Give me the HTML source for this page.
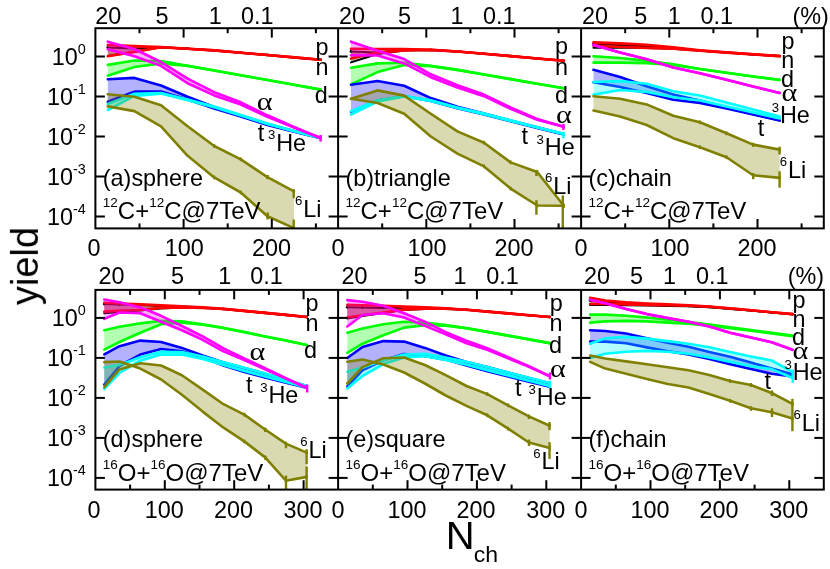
<!DOCTYPE html>
<html><head><meta charset="utf-8"><title>yield vs Nch</title>
<style>html,body{margin:0;padding:0;background:#fff}svg{display:block;will-change:transform}</style>
</head><body>
<svg width="830" height="569" viewBox="0 0 830 569" font-family="'Liberation Sans', sans-serif" fill="#000">
<rect width="830" height="569" fill="#fff"/>
<svg x="95.4" y="28.2" width="242.7" height="200.2" viewBox="95.4 28.2 242.7 200.2">
<polygon points="107.8,47.6 134.4,48.6 161.0,47.3 187.6,48.7 214.2,50.4 240.8,52.7 267.4,55.0 294.0,57.4 320.6,59.7 320.6,59.7 294.0,57.4 267.4,55.0 240.8,52.7 214.2,50.4 187.6,48.7 161.0,47.3 134.4,51.8 107.8,56.0" fill="#000000" fill-opacity="0.30" stroke="none"/>
<polyline points="107.8,47.6 134.4,48.6 161.0,47.3 187.6,48.7 214.2,50.4 240.8,52.7 267.4,55.0 294.0,57.4 320.6,59.7" fill="none" stroke="#000000" stroke-width="2.00" stroke-linejoin="round" stroke-linecap="round"/>
<polyline points="107.8,56.0 134.4,51.8 161.0,47.3 187.6,48.7 214.2,50.4 240.8,52.7 267.4,55.0 294.0,57.4 320.6,59.7" fill="none" stroke="#000000" stroke-width="2.00" stroke-linejoin="round" stroke-linecap="round"/>
<circle cx="107.8" cy="47.6" r="1.4" fill="#000"/>
<circle cx="134.4" cy="48.6" r="1.4" fill="#000"/>
<circle cx="161.0" cy="47.3" r="1.4" fill="#000"/>
<circle cx="187.6" cy="48.7" r="1.4" fill="#000"/>
<circle cx="214.2" cy="50.4" r="1.4" fill="#000"/>
<circle cx="240.8" cy="52.7" r="1.4" fill="#000"/>
<circle cx="267.4" cy="55.0" r="1.4" fill="#000"/>
<circle cx="294.0" cy="57.4" r="1.4" fill="#000"/>
<circle cx="320.6" cy="59.7" r="1.4" fill="#000"/>
<polygon points="107.8,45.1 134.4,46.1 161.0,47.1 187.6,48.7 214.2,50.4 240.8,52.7 267.4,55.0 294.0,57.4 320.6,59.7 320.6,59.7 294.0,57.4 267.4,55.0 240.8,52.7 214.2,50.4 187.6,48.7 161.0,47.3 134.4,51.9 107.8,56.2" fill="#ff0000" fill-opacity="0.30" stroke="none"/>
<polyline points="107.8,45.1 134.4,46.1 161.0,47.1 187.6,48.7 214.2,50.4 240.8,52.7 267.4,55.0 294.0,57.4 320.6,59.7" fill="none" stroke="#ff0000" stroke-width="2.60" stroke-linejoin="round" stroke-linecap="round"/>
<polyline points="107.8,56.2 134.4,51.9 161.0,47.3 187.6,48.7 214.2,50.4 240.8,52.7 267.4,55.0 294.0,57.4 320.6,59.7" fill="none" stroke="#ff0000" stroke-width="2.60" stroke-linejoin="round" stroke-linecap="round"/>
<polygon points="107.8,64.9 134.4,60.5 161.0,61.0 187.6,65.7 214.2,70.5 240.8,75.2 267.4,80.0 294.0,84.8 320.6,89.6 320.6,89.6 294.0,84.8 267.4,80.0 240.8,75.2 214.2,70.5 187.6,65.9 161.0,63.4 134.4,67.0 107.8,75.7" fill="#00ff00" fill-opacity="0.30" stroke="none"/>
<polyline points="107.8,64.9 134.4,60.5 161.0,61.0 187.6,65.7 214.2,70.5 240.8,75.2 267.4,80.0 294.0,84.8 320.6,89.6" fill="none" stroke="#00ff00" stroke-width="2.60" stroke-linejoin="round" stroke-linecap="round"/>
<polyline points="107.8,75.7 134.4,67.0 161.0,63.4 187.6,65.9 214.2,70.5 240.8,75.2 267.4,80.0 294.0,84.8 320.6,89.6" fill="none" stroke="#00ff00" stroke-width="2.60" stroke-linejoin="round" stroke-linecap="round"/>
<polygon points="107.8,79.3 134.4,77.9 161.0,85.5 187.6,96.7 214.2,107.0 240.8,115.5 267.4,124.0 294.0,131.0 320.6,138.0 320.6,138.2 294.0,131.7 267.4,124.9 240.8,116.6 214.2,108.4 187.6,99.4 161.0,91.6 134.4,91.6 107.8,101.7" fill="#0000ff" fill-opacity="0.30" stroke="none"/>
<polyline points="107.8,79.3 134.4,77.9 161.0,85.5 187.6,96.7 214.2,107.0 240.8,115.5 267.4,124.0 294.0,131.0 320.6,138.0" fill="none" stroke="#0000ff" stroke-width="2.60" stroke-linejoin="round" stroke-linecap="round"/>
<polyline points="107.8,101.7 134.4,91.6 161.0,91.6 187.6,99.4 214.2,108.4 240.8,116.6 267.4,124.9 294.0,131.7 320.6,138.2" fill="none" stroke="#0000ff" stroke-width="2.60" stroke-linejoin="round" stroke-linecap="round"/>
<polygon points="107.8,104.0 134.4,93.8 161.0,93.0 187.6,99.5 214.2,106.5 240.8,115.0 267.4,123.5 294.0,131.0 320.6,138.0 320.6,138.0 294.0,131.3 267.4,124.0 240.8,115.6 214.2,107.3 187.6,100.2 161.0,93.6 134.4,95.9 107.8,110.0" fill="#00ffff" fill-opacity="0.30" stroke="none"/>
<polyline points="107.8,104.0 134.4,93.8 161.0,93.0 187.6,99.5 214.2,106.5 240.8,115.0 267.4,123.5 294.0,131.0 320.6,138.0" fill="none" stroke="#00ffff" stroke-width="2.60" stroke-linejoin="round" stroke-linecap="round"/>
<polyline points="107.8,110.0 134.4,95.9 161.0,93.6 187.6,100.2 214.2,107.3 240.8,115.6 267.4,124.0 294.0,131.3 320.6,138.0" fill="none" stroke="#00ffff" stroke-width="2.60" stroke-linejoin="round" stroke-linecap="round"/>
<polygon points="107.8,41.7 134.4,49.0 161.0,62.0 187.6,78.7 214.2,92.2 240.8,102.3 267.4,115.3 294.0,127.0 320.6,138.0 320.6,138.0 294.0,127.6 267.4,116.7 240.8,104.5 214.2,95.4 187.6,83.2 161.0,65.9 134.4,56.2 107.8,49.3" fill="#ff00ff" fill-opacity="0.30" stroke="none"/>
<polyline points="107.8,41.7 134.4,49.0 161.0,62.0 187.6,78.7 214.2,92.2 240.8,102.3 267.4,115.3 294.0,127.0 320.6,138.0" fill="none" stroke="#ff00ff" stroke-width="2.60" stroke-linejoin="round" stroke-linecap="round"/>
<polyline points="107.8,49.3 134.4,56.2 161.0,65.9 187.6,83.2 214.2,95.4 240.8,104.5 267.4,116.7 294.0,127.6 320.6,138.0" fill="none" stroke="#ff00ff" stroke-width="2.60" stroke-linejoin="round" stroke-linecap="round"/>
<polygon points="107.8,94.2 134.4,96.7 161.0,105.2 187.6,126.3 214.2,146.0 240.8,159.3 267.4,177.1 294.0,191.4 294.0,228.1 267.4,216.3 240.8,192.5 214.2,177.4 187.6,155.8 161.0,126.3 134.4,111.1 107.8,106.4" fill="#808000" fill-opacity="0.30" stroke="none"/>
<polyline points="107.8,94.2 134.4,96.7 161.0,105.2 187.6,126.3 214.2,146.0 240.8,159.3 267.4,177.1 294.0,191.4" fill="none" stroke="#808000" stroke-width="2.60" stroke-linejoin="round" stroke-linecap="round"/>
<polyline points="107.8,106.4 134.4,111.1 161.0,126.3 187.6,155.8 214.2,177.4 240.8,192.5 267.4,216.3 294.0,228.1" fill="none" stroke="#808000" stroke-width="2.60" stroke-linejoin="round" stroke-linecap="round"/>
<line x1="214.2" y1="144.1" x2="214.2" y2="147.9" stroke="#808000" stroke-width="2"/>
<line x1="240.8" y1="157.4" x2="240.8" y2="161.2" stroke="#808000" stroke-width="2"/>
<line x1="267.4" y1="175.2" x2="267.4" y2="179.0" stroke="#808000" stroke-width="2"/>
<line x1="294.0" y1="189.5" x2="294.0" y2="193.3" stroke="#808000" stroke-width="2"/>
<line x1="214.2" y1="175.5" x2="214.2" y2="179.3" stroke="#808000" stroke-width="2"/>
<line x1="240.8" y1="190.6" x2="240.8" y2="194.4" stroke="#808000" stroke-width="2"/>
<line x1="267.4" y1="214.4" x2="267.4" y2="218.2" stroke="#808000" stroke-width="2"/>
<line x1="294.0" y1="226.2" x2="294.0" y2="230.0" stroke="#808000" stroke-width="2"/>
<line x1="267.6" y1="175.0" x2="267.6" y2="179.2" stroke="#808000" stroke-width="2.4"/>
<line x1="267.6" y1="212.4" x2="267.6" y2="219.5" stroke="#808000" stroke-width="2.4"/>
<line x1="293.7" y1="189.6" x2="293.7" y2="198.3" stroke="#808000" stroke-width="2.4"/>
<line x1="293.7" y1="219.5" x2="293.7" y2="228.4" stroke="#808000" stroke-width="2.4"/>
<line x1="320.6" y1="135.0" x2="320.6" y2="141.6" stroke="#ff00ff" stroke-width="2.4"/>
</svg>
<svg x="338.1" y="28.2" width="243.0" height="200.2" viewBox="338.1 28.2 243.0 200.2">
<polygon points="351.0,51.4 377.6,52.6 404.2,49.5 430.8,49.9 457.4,51.5 484.0,53.8 510.6,56.1 537.2,58.5 563.8,60.8 563.8,60.8 537.2,58.5 510.6,56.1 484.0,53.8 457.4,51.5 430.8,49.9 404.2,50.6 377.6,54.0 351.0,62.4" fill="#000000" fill-opacity="0.30" stroke="none"/>
<polyline points="351.0,51.4 377.6,52.6 404.2,49.5 430.8,49.9 457.4,51.5 484.0,53.8 510.6,56.1 537.2,58.5 563.8,60.8" fill="none" stroke="#000000" stroke-width="2.00" stroke-linejoin="round" stroke-linecap="round"/>
<polyline points="351.0,62.4 377.6,54.0 404.2,50.6 430.8,49.9 457.4,51.5 484.0,53.8 510.6,56.1 537.2,58.5 563.8,60.8" fill="none" stroke="#000000" stroke-width="2.00" stroke-linejoin="round" stroke-linecap="round"/>
<circle cx="351.0" cy="51.4" r="1.4" fill="#000"/>
<circle cx="377.6" cy="52.6" r="1.4" fill="#000"/>
<circle cx="404.2" cy="49.5" r="1.4" fill="#000"/>
<circle cx="430.8" cy="49.9" r="1.4" fill="#000"/>
<circle cx="457.4" cy="51.5" r="1.4" fill="#000"/>
<circle cx="484.0" cy="53.8" r="1.4" fill="#000"/>
<circle cx="510.6" cy="56.1" r="1.4" fill="#000"/>
<circle cx="537.2" cy="58.5" r="1.4" fill="#000"/>
<circle cx="563.8" cy="60.8" r="1.4" fill="#000"/>
<polygon points="351.0,48.7 377.6,49.0 404.2,49.0 430.8,49.9 457.4,51.5 484.0,53.8 510.6,56.1 537.2,58.5 563.8,60.8 563.8,60.8 537.2,58.5 510.6,56.1 484.0,53.8 457.4,51.5 430.8,49.9 404.2,50.4 377.6,52.6 351.0,58.6" fill="#ff0000" fill-opacity="0.30" stroke="none"/>
<polyline points="351.0,48.7 377.6,49.0 404.2,49.0 430.8,49.9 457.4,51.5 484.0,53.8 510.6,56.1 537.2,58.5 563.8,60.8" fill="none" stroke="#ff0000" stroke-width="2.60" stroke-linejoin="round" stroke-linecap="round"/>
<polyline points="351.0,58.6 377.6,52.6 404.2,50.4 430.8,49.9 457.4,51.5 484.0,53.8 510.6,56.1 537.2,58.5 563.8,60.8" fill="none" stroke="#ff0000" stroke-width="2.60" stroke-linejoin="round" stroke-linecap="round"/>
<polygon points="351.0,67.8 377.6,63.4 404.2,62.7 430.8,65.9 457.4,69.9 484.0,74.5 510.6,79.1 537.2,83.7 563.8,88.3 563.8,88.3 537.2,83.7 510.6,79.1 484.0,74.5 457.4,69.9 430.8,66.1 404.2,64.9 377.6,72.1 351.0,84.4" fill="#00ff00" fill-opacity="0.30" stroke="none"/>
<polyline points="351.0,67.8 377.6,63.4 404.2,62.7 430.8,65.9 457.4,69.9 484.0,74.5 510.6,79.1 537.2,83.7 563.8,88.3" fill="none" stroke="#00ff00" stroke-width="2.60" stroke-linejoin="round" stroke-linecap="round"/>
<polyline points="351.0,84.4 377.6,72.1 404.2,64.9 430.8,66.1 457.4,69.9 484.0,74.5 510.6,79.1 537.2,83.7 563.8,88.3" fill="none" stroke="#00ff00" stroke-width="2.60" stroke-linejoin="round" stroke-linecap="round"/>
<polygon points="351.0,84.8 377.6,81.0 404.2,85.8 430.8,98.1 457.4,106.7 484.0,113.6 510.6,120.5 537.2,127.3 563.8,134.1 563.8,134.5 537.2,128.0 510.6,121.2 484.0,114.5 457.4,108.2 430.8,100.9 404.2,96.2 377.6,100.5 351.0,111.8" fill="#0000ff" fill-opacity="0.30" stroke="none"/>
<polyline points="351.0,84.8 377.6,81.0 404.2,85.8 430.8,98.1 457.4,106.7 484.0,113.6 510.6,120.5 537.2,127.3 563.8,134.1" fill="none" stroke="#0000ff" stroke-width="2.60" stroke-linejoin="round" stroke-linecap="round"/>
<polyline points="351.0,111.8 377.6,100.5 404.2,96.2 430.8,100.9 457.4,108.2 484.0,114.5 510.6,121.2 537.2,128.0 563.8,134.5" fill="none" stroke="#0000ff" stroke-width="2.60" stroke-linejoin="round" stroke-linecap="round"/>
<polygon points="351.0,111.2 377.6,100.2 404.2,96.0 430.8,100.3 457.4,107.5 484.0,113.6 510.6,120.3 537.2,127.2 563.8,134.1 563.8,134.1 537.2,127.6 510.6,120.9 484.0,114.2 457.4,108.0 430.8,101.0 404.2,96.5 377.6,101.5 351.0,114.6" fill="#00ffff" fill-opacity="0.30" stroke="none"/>
<polyline points="351.0,111.2 377.6,100.2 404.2,96.0 430.8,100.3 457.4,107.5 484.0,113.6 510.6,120.3 537.2,127.2 563.8,134.1" fill="none" stroke="#00ffff" stroke-width="2.60" stroke-linejoin="round" stroke-linecap="round"/>
<polyline points="351.0,114.6 377.6,101.5 404.2,96.5 430.8,101.0 457.4,108.0 484.0,114.2 510.6,120.9 537.2,127.6 563.8,134.1" fill="none" stroke="#00ffff" stroke-width="2.60" stroke-linejoin="round" stroke-linecap="round"/>
<polygon points="351.0,41.7 377.6,50.8 404.2,59.1 430.8,74.3 457.4,85.3 484.0,94.6 510.6,107.5 537.2,118.9 563.8,126.7 563.8,126.7 537.2,119.8 510.6,108.9 484.0,96.2 457.4,87.5 430.8,77.2 404.2,63.4 377.6,55.5 351.0,55.2" fill="#ff00ff" fill-opacity="0.30" stroke="none"/>
<polyline points="351.0,41.7 377.6,50.8 404.2,59.1 430.8,74.3 457.4,85.3 484.0,94.6 510.6,107.5 537.2,118.9 563.8,126.7" fill="none" stroke="#ff00ff" stroke-width="2.60" stroke-linejoin="round" stroke-linecap="round"/>
<polyline points="351.0,55.2 377.6,55.5 404.2,63.4 430.8,77.2 457.4,87.5 484.0,96.2 510.6,108.9 537.2,119.8 563.8,126.7" fill="none" stroke="#ff00ff" stroke-width="2.60" stroke-linejoin="round" stroke-linecap="round"/>
<polygon points="351.0,98.8 377.6,90.4 404.2,95.6 430.8,113.7 457.4,131.4 484.0,142.7 510.6,162.4 537.2,172.0 563.8,205.8 563.8,205.8 537.2,205.5 510.6,188.6 484.0,166.4 457.4,153.6 430.8,136.5 404.2,113.7 377.6,103.0 351.0,98.8" fill="#808000" fill-opacity="0.30" stroke="none"/>
<polyline points="351.0,98.8 377.6,90.4 404.2,95.6 430.8,113.7 457.4,131.4 484.0,142.7 510.6,162.4 537.2,172.0 563.8,205.8" fill="none" stroke="#808000" stroke-width="2.60" stroke-linejoin="round" stroke-linecap="round"/>
<polyline points="351.0,98.8 377.6,103.0 404.2,113.7 430.8,136.5 457.4,153.6 484.0,166.4 510.6,188.6 537.2,205.5 563.8,205.8" fill="none" stroke="#808000" stroke-width="2.60" stroke-linejoin="round" stroke-linecap="round"/>
<line x1="484.0" y1="140.8" x2="484.0" y2="144.6" stroke="#808000" stroke-width="2"/>
<line x1="510.6" y1="160.5" x2="510.6" y2="164.3" stroke="#808000" stroke-width="2"/>
<line x1="537.2" y1="170.1" x2="537.2" y2="173.9" stroke="#808000" stroke-width="2"/>
<line x1="563.8" y1="203.9" x2="563.8" y2="207.7" stroke="#808000" stroke-width="2"/>
<line x1="484.0" y1="164.5" x2="484.0" y2="168.3" stroke="#808000" stroke-width="2"/>
<line x1="510.6" y1="186.7" x2="510.6" y2="190.5" stroke="#808000" stroke-width="2"/>
<line x1="537.2" y1="203.6" x2="537.2" y2="207.4" stroke="#808000" stroke-width="2"/>
<line x1="563.8" y1="203.9" x2="563.8" y2="207.7" stroke="#808000" stroke-width="2"/>
<line x1="536.4" y1="169.9" x2="536.4" y2="176.0" stroke="#808000" stroke-width="2.4"/>
<line x1="536.4" y1="200.2" x2="536.4" y2="214.7" stroke="#808000" stroke-width="2.4"/>
<line x1="562.8" y1="195.4" x2="562.8" y2="229.0" stroke="#808000" stroke-width="2.4"/>
<line x1="563.4" y1="123.9" x2="563.4" y2="130.0" stroke="#ff00ff" stroke-width="2.4"/>
<line x1="563.4" y1="131.6" x2="563.4" y2="138.4" stroke="#00ffff" stroke-width="2.4"/>
</svg>
<svg x="581.1" y="28.2" width="242.7" height="200.2" viewBox="581.1 28.2 242.7 200.2">
<polygon points="593.5,44.0 620.1,45.0 646.7,46.2 673.3,47.8 699.9,50.4 726.5,52.5 753.1,54.4 779.7,56.1 779.7,56.1 753.1,54.4 726.5,52.6 699.9,50.8 673.3,48.7 646.7,48.0 620.1,47.4 593.5,47.7" fill="#000000" fill-opacity="0.30" stroke="none"/>
<polyline points="593.5,44.0 620.1,45.0 646.7,46.2 673.3,47.8 699.9,50.4 726.5,52.5 753.1,54.4 779.7,56.1" fill="none" stroke="#000000" stroke-width="2.00" stroke-linejoin="round" stroke-linecap="round"/>
<polyline points="593.5,47.7 620.1,47.4 646.7,48.0 673.3,48.7 699.9,50.8 726.5,52.6 753.1,54.4 779.7,56.1" fill="none" stroke="#000000" stroke-width="2.00" stroke-linejoin="round" stroke-linecap="round"/>
<circle cx="593.5" cy="44.0" r="1.4" fill="#000"/>
<circle cx="620.1" cy="45.0" r="1.4" fill="#000"/>
<circle cx="646.7" cy="46.2" r="1.4" fill="#000"/>
<circle cx="673.3" cy="47.8" r="1.4" fill="#000"/>
<circle cx="699.9" cy="50.4" r="1.4" fill="#000"/>
<circle cx="726.5" cy="52.5" r="1.4" fill="#000"/>
<circle cx="753.1" cy="54.4" r="1.4" fill="#000"/>
<circle cx="779.7" cy="56.1" r="1.4" fill="#000"/>
<polygon points="593.5,42.4 620.1,43.4 646.7,44.7 673.3,47.2 699.9,50.3 726.5,52.4 753.1,54.3 779.7,56.1 779.7,56.1 753.1,54.4 726.5,52.6 699.9,50.8 673.3,48.7 646.7,47.9 620.1,47.0 593.5,45.8" fill="#ff0000" fill-opacity="0.30" stroke="none"/>
<polyline points="593.5,42.4 620.1,43.4 646.7,44.7 673.3,47.2 699.9,50.3 726.5,52.4 753.1,54.3 779.7,56.1" fill="none" stroke="#ff0000" stroke-width="2.60" stroke-linejoin="round" stroke-linecap="round"/>
<polyline points="593.5,45.8 620.1,47.0 646.7,47.9 673.3,48.7 699.9,50.8 726.5,52.6 753.1,54.4 779.7,56.1" fill="none" stroke="#ff0000" stroke-width="2.60" stroke-linejoin="round" stroke-linecap="round"/>
<polygon points="593.5,56.3 620.1,58.0 646.7,60.9 673.3,64.4 699.9,69.0 726.5,72.8 753.1,76.5 779.7,79.9 779.7,79.9 753.1,76.5 726.5,72.8 699.9,69.0 673.3,64.9 646.7,63.1 620.1,62.6 593.5,62.6" fill="#00ff00" fill-opacity="0.30" stroke="none"/>
<polyline points="593.5,56.3 620.1,58.0 646.7,60.9 673.3,64.4 699.9,69.0 726.5,72.8 753.1,76.5 779.7,79.9" fill="none" stroke="#00ff00" stroke-width="2.60" stroke-linejoin="round" stroke-linecap="round"/>
<polyline points="593.5,62.6 620.1,62.6 646.7,63.1 673.3,64.9 699.9,69.0 726.5,72.8 753.1,76.5 779.7,79.9" fill="none" stroke="#00ff00" stroke-width="2.60" stroke-linejoin="round" stroke-linecap="round"/>
<polygon points="593.5,69.8 620.1,76.9 646.7,86.2 673.3,94.6 699.9,100.5 726.5,107.5 753.1,113.9 779.7,120.3 779.7,120.6 753.1,114.4 726.5,108.5 699.9,103.0 673.3,99.7 646.7,92.9 620.1,87.0 593.5,82.3" fill="#0000ff" fill-opacity="0.30" stroke="none"/>
<polyline points="593.5,69.8 620.1,76.9 646.7,86.2 673.3,94.6 699.9,100.5 726.5,107.5 753.1,113.9 779.7,120.3" fill="none" stroke="#0000ff" stroke-width="2.60" stroke-linejoin="round" stroke-linecap="round"/>
<polyline points="593.5,82.3 620.1,87.0 646.7,92.9 673.3,99.7 699.9,103.0 726.5,108.5 753.1,114.4 779.7,120.6" fill="none" stroke="#0000ff" stroke-width="2.60" stroke-linejoin="round" stroke-linecap="round"/>
<polygon points="593.5,82.0 620.1,81.1 646.7,83.7 673.3,91.2 699.9,95.5 726.5,102.5 753.1,109.5 779.7,116.6 779.7,118.5 753.1,112.5 726.5,106.5 699.9,100.5 673.3,97.2 646.7,92.0 620.1,90.0 593.5,94.6" fill="#00ffff" fill-opacity="0.30" stroke="none"/>
<polyline points="593.5,82.0 620.1,81.1 646.7,83.7 673.3,91.2 699.9,95.5 726.5,102.5 753.1,109.5 779.7,116.6" fill="none" stroke="#00ffff" stroke-width="2.60" stroke-linejoin="round" stroke-linecap="round"/>
<polyline points="593.5,94.6 620.1,90.0 646.7,92.0 673.3,97.2 699.9,100.5 726.5,106.5 753.1,112.5 779.7,118.5" fill="none" stroke="#00ffff" stroke-width="2.60" stroke-linejoin="round" stroke-linecap="round"/>
<polygon points="593.5,44.9 620.1,52.5 646.7,59.2 673.3,67.6 699.9,73.2 726.5,79.8 753.1,86.4 779.7,93.0 779.7,93.0 753.1,86.4 726.5,79.8 699.9,73.2 673.3,67.6 646.7,59.2 620.1,52.5 593.5,44.9" fill="#ff00ff" fill-opacity="0.30" stroke="none"/>
<polyline points="593.5,44.9 620.1,52.5 646.7,59.2 673.3,67.6 699.9,73.2 726.5,79.8 753.1,86.4 779.7,93.0" fill="none" stroke="#ff00ff" stroke-width="2.60" stroke-linejoin="round" stroke-linecap="round"/>
<polyline points="593.5,44.9 620.1,52.5 646.7,59.2 673.3,67.6 699.9,73.2 726.5,79.8 753.1,86.4 779.7,93.0" fill="none" stroke="#ff00ff" stroke-width="2.60" stroke-linejoin="round" stroke-linecap="round"/>
<polygon points="593.5,96.3 620.1,98.8 646.7,104.4 673.3,115.7 699.9,122.3 726.5,133.3 753.1,144.6 779.7,149.6 779.7,177.9 753.1,175.3 726.5,157.2 699.9,147.2 673.3,138.2 646.7,125.0 620.1,116.5 593.5,110.6" fill="#808000" fill-opacity="0.30" stroke="none"/>
<polyline points="593.5,96.3 620.1,98.8 646.7,104.4 673.3,115.7 699.9,122.3 726.5,133.3 753.1,144.6 779.7,149.6" fill="none" stroke="#808000" stroke-width="2.60" stroke-linejoin="round" stroke-linecap="round"/>
<polyline points="593.5,110.6 620.1,116.5 646.7,125.0 673.3,138.2 699.9,147.2 726.5,157.2 753.1,175.3 779.7,177.9" fill="none" stroke="#808000" stroke-width="2.60" stroke-linejoin="round" stroke-linecap="round"/>
<line x1="699.9" y1="120.4" x2="699.9" y2="124.2" stroke="#808000" stroke-width="2"/>
<line x1="726.5" y1="131.4" x2="726.5" y2="135.2" stroke="#808000" stroke-width="2"/>
<line x1="753.1" y1="142.7" x2="753.1" y2="146.5" stroke="#808000" stroke-width="2"/>
<line x1="779.7" y1="147.7" x2="779.7" y2="151.5" stroke="#808000" stroke-width="2"/>
<line x1="699.9" y1="145.3" x2="699.9" y2="149.1" stroke="#808000" stroke-width="2"/>
<line x1="726.5" y1="155.3" x2="726.5" y2="159.1" stroke="#808000" stroke-width="2"/>
<line x1="753.1" y1="173.4" x2="753.1" y2="177.2" stroke="#808000" stroke-width="2"/>
<line x1="779.7" y1="176.0" x2="779.7" y2="179.8" stroke="#808000" stroke-width="2"/>
<line x1="753.2" y1="143.2" x2="753.2" y2="146.7" stroke="#808000" stroke-width="2.4"/>
<line x1="753.2" y1="173.1" x2="753.2" y2="179.2" stroke="#808000" stroke-width="2.4"/>
<line x1="779.6" y1="146.7" x2="779.6" y2="154.6" stroke="#808000" stroke-width="2.4"/>
<line x1="779.6" y1="171.3" x2="779.6" y2="187.7" stroke="#808000" stroke-width="2.4"/>
</svg>
<svg x="95.4" y="289.9" width="242.7" height="199.7" viewBox="95.4 289.9 242.7 199.7">
<polygon points="104.3,304.0 119.5,304.5 140.3,305.0 161.1,306.0 181.9,306.6 202.7,307.6 223.5,309.0 244.3,310.9 265.1,312.9 285.9,314.9 306.7,317.0 306.7,317.0 285.9,314.9 265.1,312.9 244.3,310.9 223.5,309.0 202.7,308.0 181.9,307.6 161.1,308.5 140.3,310.5 119.5,312.0 104.3,313.3" fill="#000000" fill-opacity="0.30" stroke="none"/>
<polyline points="104.3,304.0 119.5,304.5 140.3,305.0 161.1,306.0 181.9,306.6 202.7,307.6 223.5,309.0 244.3,310.9 265.1,312.9 285.9,314.9 306.7,317.0" fill="none" stroke="#000000" stroke-width="2.00" stroke-linejoin="round" stroke-linecap="round"/>
<polyline points="104.3,313.3 119.5,312.0 140.3,310.5 161.1,308.5 181.9,307.6 202.7,308.0 223.5,309.0 244.3,310.9 265.1,312.9 285.9,314.9 306.7,317.0" fill="none" stroke="#000000" stroke-width="2.00" stroke-linejoin="round" stroke-linecap="round"/>
<circle cx="104.3" cy="304.0" r="1.4" fill="#000"/>
<circle cx="119.5" cy="304.5" r="1.4" fill="#000"/>
<circle cx="140.3" cy="305.0" r="1.4" fill="#000"/>
<circle cx="161.1" cy="306.0" r="1.4" fill="#000"/>
<circle cx="181.9" cy="306.6" r="1.4" fill="#000"/>
<circle cx="202.7" cy="307.6" r="1.4" fill="#000"/>
<circle cx="223.5" cy="309.0" r="1.4" fill="#000"/>
<circle cx="244.3" cy="310.9" r="1.4" fill="#000"/>
<circle cx="265.1" cy="312.9" r="1.4" fill="#000"/>
<circle cx="285.9" cy="314.9" r="1.4" fill="#000"/>
<circle cx="306.7" cy="317.0" r="1.4" fill="#000"/>
<polygon points="104.3,302.8 119.5,303.5 140.3,304.4 161.1,305.4 181.9,306.2 202.7,307.3 223.5,308.9 244.3,310.9 265.1,312.9 285.9,314.9 306.7,317.0 306.7,317.0 285.9,314.9 265.1,312.9 244.3,310.9 223.5,309.0 202.7,308.0 181.9,307.4 161.1,307.9 140.3,310.0 119.5,310.8 104.3,311.6" fill="#ff0000" fill-opacity="0.30" stroke="none"/>
<polyline points="104.3,302.8 119.5,303.5 140.3,304.4 161.1,305.4 181.9,306.2 202.7,307.3 223.5,308.9 244.3,310.9 265.1,312.9 285.9,314.9 306.7,317.0" fill="none" stroke="#ff0000" stroke-width="2.60" stroke-linejoin="round" stroke-linecap="round"/>
<polyline points="104.3,311.6 119.5,310.8 140.3,310.0 161.1,307.9 181.9,307.4 202.7,308.0 223.5,309.0 244.3,310.9 265.1,312.9 285.9,314.9 306.7,317.0" fill="none" stroke="#ff0000" stroke-width="2.60" stroke-linejoin="round" stroke-linecap="round"/>
<polygon points="104.3,330.2 119.5,326.8 140.3,323.4 161.1,320.9 181.9,321.4 202.7,324.3 223.5,327.9 244.3,332.1 265.1,336.4 285.9,340.6 306.7,344.9 306.7,344.9 285.9,340.6 265.1,336.4 244.3,332.1 223.5,328.0 202.7,324.8 181.9,322.6 161.1,324.3 140.3,332.7 119.5,342.0 104.3,349.6" fill="#00ff00" fill-opacity="0.30" stroke="none"/>
<polyline points="104.3,330.2 119.5,326.8 140.3,323.4 161.1,320.9 181.9,321.4 202.7,324.3 223.5,327.9 244.3,332.1 265.1,336.4 285.9,340.6 306.7,344.9" fill="none" stroke="#00ff00" stroke-width="2.60" stroke-linejoin="round" stroke-linecap="round"/>
<polyline points="104.3,349.6 119.5,342.0 140.3,332.7 161.1,324.3 181.9,322.6 202.7,324.8 223.5,328.0 244.3,332.1 265.1,336.4 285.9,340.6 306.7,344.9" fill="none" stroke="#00ff00" stroke-width="2.60" stroke-linejoin="round" stroke-linecap="round"/>
<polygon points="104.3,354.3 119.5,346.2 140.3,340.6 161.1,342.0 181.9,347.9 202.7,355.5 223.5,362.4 244.3,368.0 265.1,373.8 285.9,379.9 306.7,385.9 306.7,387.8 285.9,382.8 265.1,377.5 244.3,372.1 223.5,365.6 202.7,357.6 181.9,351.2 161.1,349.0 140.3,354.6 119.5,366.0 104.3,384.6" fill="#0000ff" fill-opacity="0.30" stroke="none"/>
<polyline points="104.3,354.3 119.5,346.2 140.3,340.6 161.1,342.0 181.9,347.9 202.7,355.5 223.5,362.4 244.3,368.0 265.1,373.8 285.9,379.9 306.7,385.9" fill="none" stroke="#0000ff" stroke-width="2.60" stroke-linejoin="round" stroke-linecap="round"/>
<polyline points="104.3,384.6 119.5,366.0 140.3,354.6 161.1,349.0 181.9,351.2 202.7,357.6 223.5,365.6 244.3,372.1 265.1,377.5 285.9,382.8 306.7,387.8" fill="none" stroke="#0000ff" stroke-width="2.60" stroke-linejoin="round" stroke-linecap="round"/>
<polygon points="104.3,367.5 119.5,364.9 140.3,357.2 161.1,351.8 181.9,352.1 202.7,356.4 223.5,362.2 244.3,367.8 265.1,373.6 285.9,379.7 306.7,385.7 306.7,387.3 285.9,382.0 265.1,376.5 244.3,370.9 223.5,364.9 202.7,359.0 181.9,354.6 161.1,354.6 140.3,360.7 119.5,373.0 104.3,388.8" fill="#00ffff" fill-opacity="0.30" stroke="none"/>
<polyline points="104.3,367.5 119.5,364.9 140.3,357.2 161.1,351.8 181.9,352.1 202.7,356.4 223.5,362.2 244.3,367.8 265.1,373.6 285.9,379.7 306.7,385.7" fill="none" stroke="#00ffff" stroke-width="2.60" stroke-linejoin="round" stroke-linecap="round"/>
<polyline points="104.3,388.8 119.5,373.0 140.3,360.7 161.1,354.6 181.9,354.6 202.7,359.0 223.5,364.9 244.3,370.9 265.1,376.5 285.9,382.0 306.7,387.3" fill="none" stroke="#00ffff" stroke-width="2.60" stroke-linejoin="round" stroke-linecap="round"/>
<polygon points="104.3,299.5 119.5,302.3 140.3,307.4 161.1,315.8 181.9,326.0 202.7,336.4 223.5,348.4 244.3,358.5 265.1,368.3 285.9,378.1 306.7,387.7 306.7,387.7 285.9,378.6 265.1,369.3 244.3,360.1 223.5,351.4 202.7,339.8 181.9,330.2 161.1,321.7 140.3,313.3 119.5,312.5 104.3,318.9" fill="#ff00ff" fill-opacity="0.30" stroke="none"/>
<polyline points="104.3,299.5 119.5,302.3 140.3,307.4 161.1,315.8 181.9,326.0 202.7,336.4 223.5,348.4 244.3,358.5 265.1,368.3 285.9,378.1 306.7,387.7" fill="none" stroke="#ff00ff" stroke-width="2.60" stroke-linejoin="round" stroke-linecap="round"/>
<polyline points="104.3,318.9 119.5,312.5 140.3,313.3 161.1,321.7 181.9,330.2 202.7,339.8 223.5,351.4 244.3,360.1 265.1,369.3 285.9,378.6 306.7,387.7" fill="none" stroke="#ff00ff" stroke-width="2.60" stroke-linejoin="round" stroke-linecap="round"/>
<polygon points="104.3,362.1 119.5,361.5 140.3,368.6 161.1,379.5 181.9,394.7 202.7,411.6 223.5,427.7 244.3,441.4 265.1,457.4 285.9,480.7 306.7,476.9 306.7,452.6 285.9,443.6 265.1,429.5 244.3,414.6 223.5,404.2 202.7,389.6 181.9,375.3 161.1,365.5 140.3,363.2 119.5,369.4 104.3,387.1" fill="#808000" fill-opacity="0.30" stroke="none"/>
<polyline points="104.3,362.1 119.5,361.5 140.3,368.6 161.1,379.5 181.9,394.7 202.7,411.6 223.5,427.7 244.3,441.4 265.1,457.4 285.9,480.7 306.7,476.9" fill="none" stroke="#808000" stroke-width="2.60" stroke-linejoin="round" stroke-linecap="round"/>
<polyline points="104.3,387.1 119.5,369.4 140.3,363.2 161.1,365.5 181.9,375.3 202.7,389.6 223.5,404.2 244.3,414.6 265.1,429.5 285.9,443.6 306.7,452.6" fill="none" stroke="#808000" stroke-width="2.60" stroke-linejoin="round" stroke-linecap="round"/>
<line x1="244.3" y1="439.5" x2="244.3" y2="443.3" stroke="#808000" stroke-width="2"/>
<line x1="265.1" y1="455.5" x2="265.1" y2="459.3" stroke="#808000" stroke-width="2"/>
<line x1="285.9" y1="478.8" x2="285.9" y2="482.6" stroke="#808000" stroke-width="2"/>
<line x1="306.7" y1="475.0" x2="306.7" y2="478.8" stroke="#808000" stroke-width="2"/>
<line x1="244.3" y1="412.7" x2="244.3" y2="416.5" stroke="#808000" stroke-width="2"/>
<line x1="265.1" y1="427.6" x2="265.1" y2="431.4" stroke="#808000" stroke-width="2"/>
<line x1="285.9" y1="441.7" x2="285.9" y2="445.5" stroke="#808000" stroke-width="2"/>
<line x1="306.7" y1="450.7" x2="306.7" y2="454.5" stroke="#808000" stroke-width="2"/>
<line x1="265.4" y1="428.0" x2="265.4" y2="432.0" stroke="#808000" stroke-width="2.4"/>
<line x1="265.4" y1="456.0" x2="265.4" y2="460.0" stroke="#808000" stroke-width="2.4"/>
<line x1="286.0" y1="443.0" x2="286.0" y2="448.3" stroke="#808000" stroke-width="2.4"/>
<line x1="286.0" y1="475.6" x2="286.0" y2="489.6" stroke="#808000" stroke-width="2.4"/>
<line x1="306.6" y1="449.2" x2="306.6" y2="464.2" stroke="#808000" stroke-width="2.4"/>
<line x1="306.6" y1="466.4" x2="306.6" y2="489.6" stroke="#808000" stroke-width="2.4"/>
<line x1="307.2" y1="384.5" x2="307.2" y2="392.5" stroke="#ff00ff" stroke-width="2.4"/>
</svg>
<svg x="338.1" y="289.9" width="243.0" height="199.7" viewBox="338.1 289.9 243.0 199.7">
<polygon points="347.3,307.3 362.5,307.5 383.3,307.9 404.1,307.8 424.9,308.0 445.7,308.6 466.5,309.8 487.3,311.6 508.1,313.4 528.9,315.2 549.7,317.0 549.7,317.0 528.9,315.2 508.1,313.4 487.3,311.6 466.5,309.8 445.7,308.9 424.9,308.9 404.1,310.0 383.3,313.0 362.5,316.0 347.3,318.4" fill="#000000" fill-opacity="0.30" stroke="none"/>
<polyline points="347.3,307.3 362.5,307.5 383.3,307.9 404.1,307.8 424.9,308.0 445.7,308.6 466.5,309.8 487.3,311.6 508.1,313.4 528.9,315.2 549.7,317.0" fill="none" stroke="#000000" stroke-width="2.00" stroke-linejoin="round" stroke-linecap="round"/>
<polyline points="347.3,318.4 362.5,316.0 383.3,313.0 404.1,310.0 424.9,308.9 445.7,308.9 466.5,309.8 487.3,311.6 508.1,313.4 528.9,315.2 549.7,317.0" fill="none" stroke="#000000" stroke-width="2.00" stroke-linejoin="round" stroke-linecap="round"/>
<circle cx="347.3" cy="307.3" r="1.4" fill="#000"/>
<circle cx="362.5" cy="307.5" r="1.4" fill="#000"/>
<circle cx="383.3" cy="307.9" r="1.4" fill="#000"/>
<circle cx="404.1" cy="307.8" r="1.4" fill="#000"/>
<circle cx="424.9" cy="308.0" r="1.4" fill="#000"/>
<circle cx="445.7" cy="308.6" r="1.4" fill="#000"/>
<circle cx="466.5" cy="309.8" r="1.4" fill="#000"/>
<circle cx="487.3" cy="311.6" r="1.4" fill="#000"/>
<circle cx="508.1" cy="313.4" r="1.4" fill="#000"/>
<circle cx="528.9" cy="315.2" r="1.4" fill="#000"/>
<circle cx="549.7" cy="317.0" r="1.4" fill="#000"/>
<polygon points="347.3,304.9 362.5,305.2 383.3,305.7 404.1,306.6 424.9,307.4 445.7,308.2 466.5,309.8 487.3,311.6 508.1,313.4 528.9,315.2 549.7,317.0 549.7,317.0 528.9,315.2 508.1,313.4 487.3,311.6 466.5,309.8 445.7,308.8 424.9,308.6 404.1,309.6 383.3,312.5 362.5,315.3 347.3,317.5" fill="#ff0000" fill-opacity="0.30" stroke="none"/>
<polyline points="347.3,304.9 362.5,305.2 383.3,305.7 404.1,306.6 424.9,307.4 445.7,308.2 466.5,309.8 487.3,311.6 508.1,313.4 528.9,315.2 549.7,317.0" fill="none" stroke="#ff0000" stroke-width="2.60" stroke-linejoin="round" stroke-linecap="round"/>
<polyline points="347.3,317.5 362.5,315.3 383.3,312.5 404.1,309.6 424.9,308.6 445.7,308.8 466.5,309.8 487.3,311.6 508.1,313.4 528.9,315.2 549.7,317.0" fill="none" stroke="#ff0000" stroke-width="2.60" stroke-linejoin="round" stroke-linecap="round"/>
<polygon points="347.3,332.7 362.5,328.5 383.3,324.3 404.1,321.7 424.9,322.6 445.7,325.1 466.5,328.1 487.3,331.9 508.1,335.6 528.9,339.4 549.7,343.1 549.7,343.1 528.9,339.4 508.1,335.6 487.3,331.9 466.5,328.2 445.7,325.8 424.9,325.1 404.1,327.6 383.3,335.2 362.5,343.7 347.3,352.9" fill="#00ff00" fill-opacity="0.30" stroke="none"/>
<polyline points="347.3,332.7 362.5,328.5 383.3,324.3 404.1,321.7 424.9,322.6 445.7,325.1 466.5,328.1 487.3,331.9 508.1,335.6 528.9,339.4 549.7,343.1" fill="none" stroke="#00ff00" stroke-width="2.60" stroke-linejoin="round" stroke-linecap="round"/>
<polyline points="347.3,352.9 362.5,343.7 383.3,335.2 404.1,327.6 424.9,325.1 445.7,325.8 466.5,328.2 487.3,331.9 508.1,335.6 528.9,339.4 549.7,343.1" fill="none" stroke="#00ff00" stroke-width="2.60" stroke-linejoin="round" stroke-linecap="round"/>
<polygon points="347.3,358.0 362.5,347.0 383.3,341.1 404.1,341.6 424.9,347.9 445.7,355.5 466.5,361.9 487.3,367.1 508.1,372.6 528.9,378.0 549.7,383.3 549.7,386.7 528.9,381.7 508.1,376.5 487.3,371.3 466.5,365.4 445.7,359.6 424.9,356.0 404.1,354.0 383.3,360.3 362.5,370.4 347.3,386.3" fill="#0000ff" fill-opacity="0.30" stroke="none"/>
<polyline points="347.3,358.0 362.5,347.0 383.3,341.1 404.1,341.6 424.9,347.9 445.7,355.5 466.5,361.9 487.3,367.1 508.1,372.6 528.9,378.0 549.7,383.3" fill="none" stroke="#0000ff" stroke-width="2.60" stroke-linejoin="round" stroke-linecap="round"/>
<polyline points="347.3,386.3 362.5,370.4 383.3,360.3 404.1,354.0 424.9,356.0 445.7,359.6 466.5,365.4 487.3,371.3 508.1,376.5 528.9,381.7 549.7,386.7" fill="none" stroke="#0000ff" stroke-width="2.60" stroke-linejoin="round" stroke-linecap="round"/>
<polygon points="347.3,371.7 362.5,367.5 383.3,360.2 404.1,354.6 424.9,353.8 445.7,357.6 466.5,361.7 487.3,366.9 508.1,372.4 528.9,377.8 549.7,383.1 549.7,386.0 528.9,380.7 508.1,375.5 487.3,370.2 466.5,364.7 445.7,360.0 424.9,356.3 404.1,357.4 383.3,364.0 362.5,376.0 347.3,388.5" fill="#00ffff" fill-opacity="0.30" stroke="none"/>
<polyline points="347.3,371.7 362.5,367.5 383.3,360.2 404.1,354.6 424.9,353.8 445.7,357.6 466.5,361.7 487.3,366.9 508.1,372.4 528.9,377.8 549.7,383.1" fill="none" stroke="#00ffff" stroke-width="2.60" stroke-linejoin="round" stroke-linecap="round"/>
<polyline points="347.3,388.5 362.5,376.0 383.3,364.0 404.1,357.4 424.9,356.3 445.7,360.0 466.5,364.7 487.3,370.2 508.1,375.5 528.9,380.7 549.7,386.0" fill="none" stroke="#00ffff" stroke-width="2.60" stroke-linejoin="round" stroke-linecap="round"/>
<polygon points="347.3,300.1 362.5,301.8 383.3,305.7 404.1,313.3 424.9,321.7 445.7,332.2 466.5,340.8 487.3,348.2 508.1,357.2 528.9,366.1 549.7,376.2 549.7,376.2 528.9,366.7 508.1,358.2 487.3,349.8 466.5,343.2 445.7,334.4 424.9,325.9 404.1,317.5 383.3,313.3 362.5,315.0 347.3,326.5" fill="#ff00ff" fill-opacity="0.30" stroke="none"/>
<polyline points="347.3,300.1 362.5,301.8 383.3,305.7 404.1,313.3 424.9,321.7 445.7,332.2 466.5,340.8 487.3,348.2 508.1,357.2 528.9,366.1 549.7,376.2" fill="none" stroke="#ff00ff" stroke-width="2.60" stroke-linejoin="round" stroke-linecap="round"/>
<polyline points="347.3,326.5 362.5,315.0 383.3,313.3 404.1,317.5 424.9,325.9 445.7,334.4 466.5,343.2 487.3,349.8 508.1,358.2 528.9,366.7 549.7,376.2" fill="none" stroke="#ff00ff" stroke-width="2.60" stroke-linejoin="round" stroke-linecap="round"/>
<polygon points="347.3,361.8 362.5,359.5 383.3,364.5 404.1,372.5 424.9,383.5 445.7,395.5 466.5,405.9 487.3,415.3 508.1,428.7 528.9,442.5 549.7,448.1 549.7,425.8 528.9,416.4 508.1,405.3 487.3,394.1 466.5,386.0 445.7,375.1 424.9,365.0 404.1,357.5 383.3,358.3 362.5,367.1 347.3,383.5" fill="#808000" fill-opacity="0.30" stroke="none"/>
<polyline points="347.3,361.8 362.5,359.5 383.3,364.5 404.1,372.5 424.9,383.5 445.7,395.5 466.5,405.9 487.3,415.3 508.1,428.7 528.9,442.5 549.7,448.1" fill="none" stroke="#808000" stroke-width="2.60" stroke-linejoin="round" stroke-linecap="round"/>
<polyline points="347.3,383.5 362.5,367.1 383.3,358.3 404.1,357.5 424.9,365.0 445.7,375.1 466.5,386.0 487.3,394.1 508.1,405.3 528.9,416.4 549.7,425.8" fill="none" stroke="#808000" stroke-width="2.60" stroke-linejoin="round" stroke-linecap="round"/>
<line x1="487.3" y1="413.4" x2="487.3" y2="417.2" stroke="#808000" stroke-width="2"/>
<line x1="508.1" y1="426.8" x2="508.1" y2="430.6" stroke="#808000" stroke-width="2"/>
<line x1="528.9" y1="440.6" x2="528.9" y2="444.4" stroke="#808000" stroke-width="2"/>
<line x1="549.7" y1="446.2" x2="549.7" y2="450.0" stroke="#808000" stroke-width="2"/>
<line x1="487.3" y1="392.2" x2="487.3" y2="396.0" stroke="#808000" stroke-width="2"/>
<line x1="508.1" y1="403.4" x2="508.1" y2="407.2" stroke="#808000" stroke-width="2"/>
<line x1="528.9" y1="414.5" x2="528.9" y2="418.3" stroke="#808000" stroke-width="2"/>
<line x1="549.7" y1="423.9" x2="549.7" y2="427.7" stroke="#808000" stroke-width="2"/>
<line x1="529.0" y1="415.0" x2="529.0" y2="419.0" stroke="#808000" stroke-width="2.4"/>
<line x1="529.0" y1="439.5" x2="529.0" y2="446.0" stroke="#808000" stroke-width="2.4"/>
<line x1="549.5" y1="422.0" x2="549.5" y2="430.2" stroke="#808000" stroke-width="2.4"/>
<line x1="549.5" y1="442.2" x2="549.5" y2="458.9" stroke="#808000" stroke-width="2.4"/>
<line x1="549.9" y1="380.7" x2="549.9" y2="388.7" stroke="#00ffff" stroke-width="2.4"/>
<line x1="549.9" y1="372.5" x2="549.9" y2="379.5" stroke="#ff00ff" stroke-width="2.4"/>
</svg>
<svg x="581.1" y="289.9" width="242.7" height="199.7" viewBox="581.1 289.9 242.7 199.7">
<polygon points="590.1,300.5 605.3,302.0 626.1,303.3 646.9,304.3 667.7,305.2 688.5,306.0 709.3,307.0 730.1,308.8 750.9,310.6 771.7,312.4 792.5,314.2 792.5,314.2 771.7,312.4 750.9,310.6 730.1,308.9 709.3,307.2 688.5,306.3 667.7,305.9 646.9,305.5 626.1,305.2 605.3,305.0 590.1,304.9" fill="#000000" fill-opacity="0.30" stroke="none"/>
<polyline points="590.1,300.5 605.3,302.0 626.1,303.3 646.9,304.3 667.7,305.2 688.5,306.0 709.3,307.0 730.1,308.8 750.9,310.6 771.7,312.4 792.5,314.2" fill="none" stroke="#000000" stroke-width="2.00" stroke-linejoin="round" stroke-linecap="round"/>
<polyline points="590.1,304.9 605.3,305.0 626.1,305.2 646.9,305.5 667.7,305.9 688.5,306.3 709.3,307.2 730.1,308.9 750.9,310.6 771.7,312.4 792.5,314.2" fill="none" stroke="#000000" stroke-width="2.00" stroke-linejoin="round" stroke-linecap="round"/>
<circle cx="590.1" cy="300.5" r="1.4" fill="#000"/>
<circle cx="605.3" cy="302.0" r="1.4" fill="#000"/>
<circle cx="626.1" cy="303.3" r="1.4" fill="#000"/>
<circle cx="646.9" cy="304.3" r="1.4" fill="#000"/>
<circle cx="667.7" cy="305.2" r="1.4" fill="#000"/>
<circle cx="688.5" cy="306.0" r="1.4" fill="#000"/>
<circle cx="709.3" cy="307.0" r="1.4" fill="#000"/>
<circle cx="730.1" cy="308.8" r="1.4" fill="#000"/>
<circle cx="750.9" cy="310.6" r="1.4" fill="#000"/>
<circle cx="771.7" cy="312.4" r="1.4" fill="#000"/>
<circle cx="792.5" cy="314.2" r="1.4" fill="#000"/>
<polygon points="590.1,297.8 605.3,300.6 626.1,302.3 646.9,303.5 667.7,304.4 688.5,305.4 709.3,306.5 730.1,308.4 750.9,310.3 771.7,312.2 792.5,314.1 792.5,314.1 771.7,312.2 750.9,310.3 730.1,308.5 709.3,306.8 688.5,305.8 667.7,305.3 646.9,304.9 626.1,304.4 605.3,304.0 590.1,304.0" fill="#ff0000" fill-opacity="0.30" stroke="none"/>
<polyline points="590.1,297.8 605.3,300.6 626.1,302.3 646.9,303.5 667.7,304.4 688.5,305.4 709.3,306.5 730.1,308.4 750.9,310.3 771.7,312.2 792.5,314.1" fill="none" stroke="#ff0000" stroke-width="2.60" stroke-linejoin="round" stroke-linecap="round"/>
<polyline points="590.1,304.0 605.3,304.0 626.1,304.4 646.9,304.9 667.7,305.3 688.5,305.8 709.3,306.8 730.1,308.5 750.9,310.3 771.7,312.2 792.5,314.1" fill="none" stroke="#ff0000" stroke-width="2.60" stroke-linejoin="round" stroke-linecap="round"/>
<polygon points="590.1,314.6 605.3,314.6 626.1,315.8 646.9,317.5 667.7,319.7 688.5,321.7 709.3,324.6 730.1,327.4 750.9,330.1 771.7,332.9 792.5,335.6 792.5,336.2 771.7,333.5 750.9,330.8 730.1,328.2 709.3,325.6 688.5,323.8 667.7,322.6 646.9,321.4 626.1,320.9 605.3,321.4 590.1,322.6" fill="#00ff00" fill-opacity="0.30" stroke="none"/>
<polyline points="590.1,314.6 605.3,314.6 626.1,315.8 646.9,317.5 667.7,319.7 688.5,321.7 709.3,324.6 730.1,327.4 750.9,330.1 771.7,332.9 792.5,335.6" fill="none" stroke="#00ff00" stroke-width="2.60" stroke-linejoin="round" stroke-linecap="round"/>
<polyline points="590.1,322.6 605.3,321.4 626.1,320.9 646.9,321.4 667.7,322.6 688.5,323.8 709.3,325.6 730.1,328.2 750.9,330.8 771.7,333.5 792.5,336.2" fill="none" stroke="#00ff00" stroke-width="2.60" stroke-linejoin="round" stroke-linecap="round"/>
<polygon points="590.1,330.2 605.3,331.0 626.1,333.5 646.9,338.3 667.7,342.8 688.5,346.8 709.3,352.1 730.1,356.8 750.9,362.6 771.7,368.4 792.5,374.3 792.5,376.5 771.7,373.7 750.9,369.1 730.1,364.2 709.3,358.9 688.5,354.4 667.7,351.2 646.9,347.4 626.1,343.3 605.3,341.6 590.1,341.6" fill="#0000ff" fill-opacity="0.30" stroke="none"/>
<polyline points="590.1,330.2 605.3,331.0 626.1,333.5 646.9,338.3 667.7,342.8 688.5,346.8 709.3,352.1 730.1,356.8 750.9,362.6 771.7,368.4 792.5,374.3" fill="none" stroke="#0000ff" stroke-width="2.60" stroke-linejoin="round" stroke-linecap="round"/>
<polyline points="590.1,341.6 605.3,341.6 626.1,343.3 646.9,347.4 667.7,351.2 688.5,354.4 709.3,358.9 730.1,364.2 750.9,369.1 771.7,373.7 792.5,376.5" fill="none" stroke="#0000ff" stroke-width="2.60" stroke-linejoin="round" stroke-linecap="round"/>
<polygon points="590.1,343.7 605.3,338.3 626.1,336.9 646.9,338.6 667.7,341.1 688.5,343.7 709.3,347.2 730.1,352.1 750.9,356.4 771.7,360.5 792.5,371.8 792.5,378.0 771.7,369.1 750.9,366.3 730.1,361.7 709.3,357.4 688.5,353.8 667.7,351.8 646.9,350.9 626.1,351.8 605.3,353.8 590.1,358.0" fill="#00ffff" fill-opacity="0.30" stroke="none"/>
<polyline points="590.1,343.7 605.3,338.3 626.1,336.9 646.9,338.6 667.7,341.1 688.5,343.7 709.3,347.2 730.1,352.1 750.9,356.4 771.7,360.5 792.5,371.8" fill="none" stroke="#00ffff" stroke-width="2.60" stroke-linejoin="round" stroke-linecap="round"/>
<polyline points="590.1,358.0 605.3,353.8 626.1,351.8 646.9,350.9 667.7,351.8 688.5,353.8 709.3,357.4 730.1,361.7 750.9,366.3 771.7,369.1 792.5,378.0" fill="none" stroke="#00ffff" stroke-width="2.60" stroke-linejoin="round" stroke-linecap="round"/>
<polygon points="590.1,299.8 605.3,303.2 626.1,309.1 646.9,314.1 667.7,318.0 688.5,321.7 709.3,326.5 730.1,332.8 750.9,337.6 771.7,342.3 792.5,349.8 792.5,349.8 771.7,342.3 750.9,337.6 730.1,332.8 709.3,326.5 688.5,321.7 667.7,318.0 646.9,314.1 626.1,309.1 605.3,303.2 590.1,299.8" fill="#ff00ff" fill-opacity="0.30" stroke="none"/>
<polyline points="590.1,299.8 605.3,303.2 626.1,309.1 646.9,314.1 667.7,318.0 688.5,321.7 709.3,326.5 730.1,332.8 750.9,337.6 771.7,342.3 792.5,349.8" fill="none" stroke="#ff00ff" stroke-width="2.60" stroke-linejoin="round" stroke-linecap="round"/>
<polyline points="590.1,299.8 605.3,303.2 626.1,309.1 646.9,314.1 667.7,318.0 688.5,321.7 709.3,326.5 730.1,332.8 750.9,337.6 771.7,342.3 792.5,349.8" fill="none" stroke="#ff00ff" stroke-width="2.60" stroke-linejoin="round" stroke-linecap="round"/>
<polygon points="590.1,355.5 605.3,358.5 626.1,361.4 646.9,364.2 667.7,367.3 688.5,370.3 709.3,374.9 730.1,381.0 750.9,385.0 771.7,393.0 792.5,403.8 792.5,418.5 771.7,412.2 750.9,408.3 730.1,400.8 709.3,394.0 688.5,387.5 667.7,384.0 646.9,379.1 626.1,373.7 605.3,368.6 590.1,361.9" fill="#808000" fill-opacity="0.30" stroke="none"/>
<polyline points="590.1,355.5 605.3,358.5 626.1,361.4 646.9,364.2 667.7,367.3 688.5,370.3 709.3,374.9 730.1,381.0 750.9,385.0 771.7,393.0 792.5,403.8" fill="none" stroke="#808000" stroke-width="2.60" stroke-linejoin="round" stroke-linecap="round"/>
<polyline points="590.1,361.9 605.3,368.6 626.1,373.7 646.9,379.1 667.7,384.0 688.5,387.5 709.3,394.0 730.1,400.8 750.9,408.3 771.7,412.2 792.5,418.5" fill="none" stroke="#808000" stroke-width="2.60" stroke-linejoin="round" stroke-linecap="round"/>
<line x1="730.1" y1="379.1" x2="730.1" y2="382.9" stroke="#808000" stroke-width="2"/>
<line x1="750.9" y1="383.1" x2="750.9" y2="386.9" stroke="#808000" stroke-width="2"/>
<line x1="771.7" y1="391.1" x2="771.7" y2="394.9" stroke="#808000" stroke-width="2"/>
<line x1="792.5" y1="401.9" x2="792.5" y2="405.7" stroke="#808000" stroke-width="2"/>
<line x1="730.1" y1="398.9" x2="730.1" y2="402.7" stroke="#808000" stroke-width="2"/>
<line x1="750.9" y1="406.4" x2="750.9" y2="410.2" stroke="#808000" stroke-width="2"/>
<line x1="771.7" y1="410.3" x2="771.7" y2="414.1" stroke="#808000" stroke-width="2"/>
<line x1="792.5" y1="416.6" x2="792.5" y2="420.4" stroke="#808000" stroke-width="2"/>
<line x1="751.0" y1="383.4" x2="751.0" y2="386.9" stroke="#808000" stroke-width="2.4"/>
<line x1="751.0" y1="406.6" x2="751.0" y2="410.8" stroke="#808000" stroke-width="2.4"/>
<line x1="772.0" y1="390.4" x2="772.0" y2="396.0" stroke="#808000" stroke-width="2.4"/>
<line x1="772.0" y1="408.3" x2="772.0" y2="417.1" stroke="#808000" stroke-width="2.4"/>
<line x1="792.4" y1="398.8" x2="792.4" y2="431.2" stroke="#808000" stroke-width="2.4"/>
<line x1="792.7" y1="369.4" x2="792.7" y2="382.9" stroke="#00ffff" stroke-width="2.4"/>
</svg>
<rect x="95.4" y="28.2" width="728.4" height="200.2" fill="none" stroke="#000" stroke-width="2.0"/>
<line x1="338.1" y1="28.2" x2="338.1" y2="228.4" stroke="#000" stroke-width="2.0"/>
<line x1="581.1" y1="28.2" x2="581.1" y2="228.4" stroke="#000" stroke-width="2.0"/>
<line x1="95.4" y1="56.5" x2="104.9" y2="56.5" stroke="#000" stroke-width="2.0"/>
<line x1="328.6" y1="56.5" x2="347.6" y2="56.5" stroke="#000" stroke-width="2.0"/>
<line x1="571.6" y1="56.5" x2="590.6" y2="56.5" stroke="#000" stroke-width="2.0"/>
<line x1="814.3" y1="56.5" x2="823.8" y2="56.5" stroke="#000" stroke-width="2.0"/>
<line x1="95.4" y1="96.5" x2="104.9" y2="96.5" stroke="#000" stroke-width="2.0"/>
<line x1="328.6" y1="96.5" x2="347.6" y2="96.5" stroke="#000" stroke-width="2.0"/>
<line x1="571.6" y1="96.5" x2="590.6" y2="96.5" stroke="#000" stroke-width="2.0"/>
<line x1="814.3" y1="96.5" x2="823.8" y2="96.5" stroke="#000" stroke-width="2.0"/>
<line x1="95.4" y1="136.5" x2="104.9" y2="136.5" stroke="#000" stroke-width="2.0"/>
<line x1="328.6" y1="136.5" x2="347.6" y2="136.5" stroke="#000" stroke-width="2.0"/>
<line x1="571.6" y1="136.5" x2="590.6" y2="136.5" stroke="#000" stroke-width="2.0"/>
<line x1="814.3" y1="136.5" x2="823.8" y2="136.5" stroke="#000" stroke-width="2.0"/>
<line x1="95.4" y1="176.5" x2="104.9" y2="176.5" stroke="#000" stroke-width="2.0"/>
<line x1="328.6" y1="176.5" x2="347.6" y2="176.5" stroke="#000" stroke-width="2.0"/>
<line x1="571.6" y1="176.5" x2="590.6" y2="176.5" stroke="#000" stroke-width="2.0"/>
<line x1="814.3" y1="176.5" x2="823.8" y2="176.5" stroke="#000" stroke-width="2.0"/>
<line x1="95.4" y1="216.5" x2="104.9" y2="216.5" stroke="#000" stroke-width="2.0"/>
<line x1="328.6" y1="216.5" x2="347.6" y2="216.5" stroke="#000" stroke-width="2.0"/>
<line x1="571.6" y1="216.5" x2="590.6" y2="216.5" stroke="#000" stroke-width="2.0"/>
<line x1="814.3" y1="216.5" x2="823.8" y2="216.5" stroke="#000" stroke-width="2.0"/>
<line x1="139.5" y1="28.2" x2="139.5" y2="33.2" stroke="#000" stroke-width="2.0"/>
<line x1="139.5" y1="228.4" x2="139.5" y2="223.4" stroke="#000" stroke-width="2.0"/>
<line x1="183.6" y1="28.2" x2="183.6" y2="37.6" stroke="#000" stroke-width="2.0"/>
<line x1="183.6" y1="228.4" x2="183.6" y2="219.0" stroke="#000" stroke-width="2.0"/>
<line x1="227.7" y1="28.2" x2="227.7" y2="33.2" stroke="#000" stroke-width="2.0"/>
<line x1="227.7" y1="228.4" x2="227.7" y2="223.4" stroke="#000" stroke-width="2.0"/>
<line x1="271.8" y1="28.2" x2="271.8" y2="37.6" stroke="#000" stroke-width="2.0"/>
<line x1="271.8" y1="228.4" x2="271.8" y2="219.0" stroke="#000" stroke-width="2.0"/>
<line x1="315.9" y1="28.2" x2="315.9" y2="33.2" stroke="#000" stroke-width="2.0"/>
<line x1="315.9" y1="228.4" x2="315.9" y2="223.4" stroke="#000" stroke-width="2.0"/>
<line x1="382.2" y1="28.2" x2="382.2" y2="33.2" stroke="#000" stroke-width="2.0"/>
<line x1="382.2" y1="228.4" x2="382.2" y2="223.4" stroke="#000" stroke-width="2.0"/>
<line x1="426.3" y1="28.2" x2="426.3" y2="37.6" stroke="#000" stroke-width="2.0"/>
<line x1="426.3" y1="228.4" x2="426.3" y2="219.0" stroke="#000" stroke-width="2.0"/>
<line x1="470.4" y1="28.2" x2="470.4" y2="33.2" stroke="#000" stroke-width="2.0"/>
<line x1="470.4" y1="228.4" x2="470.4" y2="223.4" stroke="#000" stroke-width="2.0"/>
<line x1="514.5" y1="28.2" x2="514.5" y2="37.6" stroke="#000" stroke-width="2.0"/>
<line x1="514.5" y1="228.4" x2="514.5" y2="219.0" stroke="#000" stroke-width="2.0"/>
<line x1="558.6" y1="28.2" x2="558.6" y2="33.2" stroke="#000" stroke-width="2.0"/>
<line x1="558.6" y1="228.4" x2="558.6" y2="223.4" stroke="#000" stroke-width="2.0"/>
<line x1="625.2" y1="28.2" x2="625.2" y2="33.2" stroke="#000" stroke-width="2.0"/>
<line x1="625.2" y1="228.4" x2="625.2" y2="223.4" stroke="#000" stroke-width="2.0"/>
<line x1="669.3" y1="28.2" x2="669.3" y2="37.6" stroke="#000" stroke-width="2.0"/>
<line x1="669.3" y1="228.4" x2="669.3" y2="219.0" stroke="#000" stroke-width="2.0"/>
<line x1="713.4" y1="28.2" x2="713.4" y2="33.2" stroke="#000" stroke-width="2.0"/>
<line x1="713.4" y1="228.4" x2="713.4" y2="223.4" stroke="#000" stroke-width="2.0"/>
<line x1="757.5" y1="28.2" x2="757.5" y2="37.6" stroke="#000" stroke-width="2.0"/>
<line x1="757.5" y1="228.4" x2="757.5" y2="219.0" stroke="#000" stroke-width="2.0"/>
<line x1="801.6" y1="28.2" x2="801.6" y2="33.2" stroke="#000" stroke-width="2.0"/>
<line x1="801.6" y1="228.4" x2="801.6" y2="223.4" stroke="#000" stroke-width="2.0"/>
<rect x="95.4" y="289.9" width="728.4" height="199.7" fill="none" stroke="#000" stroke-width="2.0"/>
<line x1="338.1" y1="289.9" x2="338.1" y2="489.6" stroke="#000" stroke-width="2.0"/>
<line x1="581.1" y1="289.9" x2="581.1" y2="489.6" stroke="#000" stroke-width="2.0"/>
<line x1="95.4" y1="317.9" x2="104.9" y2="317.9" stroke="#000" stroke-width="2.0"/>
<line x1="328.6" y1="317.9" x2="347.6" y2="317.9" stroke="#000" stroke-width="2.0"/>
<line x1="571.6" y1="317.9" x2="590.6" y2="317.9" stroke="#000" stroke-width="2.0"/>
<line x1="814.3" y1="317.9" x2="823.8" y2="317.9" stroke="#000" stroke-width="2.0"/>
<line x1="95.4" y1="357.9" x2="104.9" y2="357.9" stroke="#000" stroke-width="2.0"/>
<line x1="328.6" y1="357.9" x2="347.6" y2="357.9" stroke="#000" stroke-width="2.0"/>
<line x1="571.6" y1="357.9" x2="590.6" y2="357.9" stroke="#000" stroke-width="2.0"/>
<line x1="814.3" y1="357.9" x2="823.8" y2="357.9" stroke="#000" stroke-width="2.0"/>
<line x1="95.4" y1="397.9" x2="104.9" y2="397.9" stroke="#000" stroke-width="2.0"/>
<line x1="328.6" y1="397.9" x2="347.6" y2="397.9" stroke="#000" stroke-width="2.0"/>
<line x1="571.6" y1="397.9" x2="590.6" y2="397.9" stroke="#000" stroke-width="2.0"/>
<line x1="814.3" y1="397.9" x2="823.8" y2="397.9" stroke="#000" stroke-width="2.0"/>
<line x1="95.4" y1="437.9" x2="104.9" y2="437.9" stroke="#000" stroke-width="2.0"/>
<line x1="328.6" y1="437.9" x2="347.6" y2="437.9" stroke="#000" stroke-width="2.0"/>
<line x1="571.6" y1="437.9" x2="590.6" y2="437.9" stroke="#000" stroke-width="2.0"/>
<line x1="814.3" y1="437.9" x2="823.8" y2="437.9" stroke="#000" stroke-width="2.0"/>
<line x1="95.4" y1="477.9" x2="104.9" y2="477.9" stroke="#000" stroke-width="2.0"/>
<line x1="328.6" y1="477.9" x2="347.6" y2="477.9" stroke="#000" stroke-width="2.0"/>
<line x1="571.6" y1="477.9" x2="590.6" y2="477.9" stroke="#000" stroke-width="2.0"/>
<line x1="814.3" y1="477.9" x2="823.8" y2="477.9" stroke="#000" stroke-width="2.0"/>
<line x1="130.1" y1="289.9" x2="130.1" y2="294.9" stroke="#000" stroke-width="2.0"/>
<line x1="130.1" y1="489.6" x2="130.1" y2="484.6" stroke="#000" stroke-width="2.0"/>
<line x1="164.8" y1="289.9" x2="164.8" y2="299.3" stroke="#000" stroke-width="2.0"/>
<line x1="164.8" y1="489.6" x2="164.8" y2="480.2" stroke="#000" stroke-width="2.0"/>
<line x1="199.5" y1="289.9" x2="199.5" y2="294.9" stroke="#000" stroke-width="2.0"/>
<line x1="199.5" y1="489.6" x2="199.5" y2="484.6" stroke="#000" stroke-width="2.0"/>
<line x1="234.2" y1="289.9" x2="234.2" y2="299.3" stroke="#000" stroke-width="2.0"/>
<line x1="234.2" y1="489.6" x2="234.2" y2="480.2" stroke="#000" stroke-width="2.0"/>
<line x1="268.9" y1="289.9" x2="268.9" y2="294.9" stroke="#000" stroke-width="2.0"/>
<line x1="268.9" y1="489.6" x2="268.9" y2="484.6" stroke="#000" stroke-width="2.0"/>
<line x1="303.6" y1="289.9" x2="303.6" y2="299.3" stroke="#000" stroke-width="2.0"/>
<line x1="303.6" y1="489.6" x2="303.6" y2="480.2" stroke="#000" stroke-width="2.0"/>
<line x1="372.8" y1="289.9" x2="372.8" y2="294.9" stroke="#000" stroke-width="2.0"/>
<line x1="372.8" y1="489.6" x2="372.8" y2="484.6" stroke="#000" stroke-width="2.0"/>
<line x1="407.5" y1="289.9" x2="407.5" y2="299.3" stroke="#000" stroke-width="2.0"/>
<line x1="407.5" y1="489.6" x2="407.5" y2="480.2" stroke="#000" stroke-width="2.0"/>
<line x1="442.2" y1="289.9" x2="442.2" y2="294.9" stroke="#000" stroke-width="2.0"/>
<line x1="442.2" y1="489.6" x2="442.2" y2="484.6" stroke="#000" stroke-width="2.0"/>
<line x1="476.9" y1="289.9" x2="476.9" y2="299.3" stroke="#000" stroke-width="2.0"/>
<line x1="476.9" y1="489.6" x2="476.9" y2="480.2" stroke="#000" stroke-width="2.0"/>
<line x1="511.6" y1="289.9" x2="511.6" y2="294.9" stroke="#000" stroke-width="2.0"/>
<line x1="511.6" y1="489.6" x2="511.6" y2="484.6" stroke="#000" stroke-width="2.0"/>
<line x1="546.3" y1="289.9" x2="546.3" y2="299.3" stroke="#000" stroke-width="2.0"/>
<line x1="546.3" y1="489.6" x2="546.3" y2="480.2" stroke="#000" stroke-width="2.0"/>
<line x1="615.8" y1="289.9" x2="615.8" y2="294.9" stroke="#000" stroke-width="2.0"/>
<line x1="615.8" y1="489.6" x2="615.8" y2="484.6" stroke="#000" stroke-width="2.0"/>
<line x1="650.5" y1="289.9" x2="650.5" y2="299.3" stroke="#000" stroke-width="2.0"/>
<line x1="650.5" y1="489.6" x2="650.5" y2="480.2" stroke="#000" stroke-width="2.0"/>
<line x1="685.2" y1="289.9" x2="685.2" y2="294.9" stroke="#000" stroke-width="2.0"/>
<line x1="685.2" y1="489.6" x2="685.2" y2="484.6" stroke="#000" stroke-width="2.0"/>
<line x1="719.9" y1="289.9" x2="719.9" y2="299.3" stroke="#000" stroke-width="2.0"/>
<line x1="719.9" y1="489.6" x2="719.9" y2="480.2" stroke="#000" stroke-width="2.0"/>
<line x1="754.6" y1="289.9" x2="754.6" y2="294.9" stroke="#000" stroke-width="2.0"/>
<line x1="754.6" y1="489.6" x2="754.6" y2="484.6" stroke="#000" stroke-width="2.0"/>
<line x1="789.3" y1="289.9" x2="789.3" y2="299.3" stroke="#000" stroke-width="2.0"/>
<line x1="789.3" y1="489.6" x2="789.3" y2="480.2" stroke="#000" stroke-width="2.0"/>
<g style="filter:opacity(1)">
<text transform="translate(95.2,23.5)" font-size="23.4">20</text>
<text transform="translate(155.4,23.5)" font-size="23.4">5</text>
<text transform="translate(208.8,23.5)" font-size="23.4">1</text>
<text transform="translate(240.9,23.5)" font-size="23.4">0.1</text>
<text transform="translate(339.0,23.5)" font-size="23.4">20</text>
<text transform="translate(397.9,23.5)" font-size="23.4">5</text>
<text transform="translate(450.4,23.5)" font-size="23.4">1</text>
<text transform="translate(483.1,23.5)" font-size="23.4">0.1</text>
<text transform="translate(582.1,23.5)" font-size="23.4">20</text>
<text transform="translate(634.2,23.5)" font-size="23.4">5</text>
<text transform="translate(667.8,23.5)" font-size="23.4">1</text>
<text transform="translate(700.6,23.5)" font-size="23.4">0.1</text>
<text transform="translate(792.4,23.5)" font-size="23.4">(%)</text>
<text transform="translate(98.4,284.0)" font-size="23.4">20</text>
<text transform="translate(171.1,284.0)" font-size="23.4">5</text>
<text transform="translate(218.2,284.0)" font-size="23.4">1</text>
<text transform="translate(250.3,284.0)" font-size="23.4">0.1</text>
<text transform="translate(341.5,284.0)" font-size="23.4">20</text>
<text transform="translate(413.6,284.0)" font-size="23.4">5</text>
<text transform="translate(453.5,284.0)" font-size="23.4">1</text>
<text transform="translate(486.3,284.0)" font-size="23.4">0.1</text>
<text transform="translate(584.0,284.0)" font-size="23.4">20</text>
<text transform="translate(630.1,284.0)" font-size="23.4">5</text>
<text transform="translate(663.1,284.0)" font-size="23.4">1</text>
<text transform="translate(695.9,284.0)" font-size="23.4">0.1</text>
<text transform="translate(787.7,284.0)" font-size="23.4">(%)</text>
<text transform="translate(94.1,255.7)" font-size="23.4" text-anchor="middle">0</text>
<text transform="translate(184.2,255.7)" font-size="23.4" text-anchor="middle">100</text>
<text transform="translate(271.4,255.7)" font-size="23.4" text-anchor="middle">200</text>
<text transform="translate(337.9,255.7)" font-size="23.4" text-anchor="middle">0</text>
<text transform="translate(426.9,255.7)" font-size="23.4" text-anchor="middle">100</text>
<text transform="translate(514.1,255.7)" font-size="23.4" text-anchor="middle">200</text>
<text transform="translate(580.9,255.7)" font-size="23.4" text-anchor="middle">0</text>
<text transform="translate(669.9,255.7)" font-size="23.4" text-anchor="middle">100</text>
<text transform="translate(757.1,255.7)" font-size="23.4" text-anchor="middle">200</text>
<text transform="translate(93.9,517.6)" font-size="23.4" text-anchor="middle">0</text>
<text transform="translate(164.2,517.6)" font-size="23.4" text-anchor="middle">100</text>
<text transform="translate(233.4,517.6)" font-size="23.4" text-anchor="middle">200</text>
<text transform="translate(303.0,517.6)" font-size="23.4" text-anchor="middle">300</text>
<text transform="translate(338.1,517.6)" font-size="23.4" text-anchor="middle">0</text>
<text transform="translate(406.9,517.6)" font-size="23.4" text-anchor="middle">100</text>
<text transform="translate(476.1,517.6)" font-size="23.4" text-anchor="middle">200</text>
<text transform="translate(545.7,517.6)" font-size="23.4" text-anchor="middle">300</text>
<text transform="translate(581.1,517.6)" font-size="23.4" text-anchor="middle">0</text>
<text transform="translate(649.9,517.6)" font-size="23.4" text-anchor="middle">100</text>
<text transform="translate(719.1,517.6)" font-size="23.4" text-anchor="middle">200</text>
<text transform="translate(788.7,517.6)" font-size="23.4" text-anchor="middle">300</text>
<text transform="translate(85.8,65.0)" font-size="23.4" text-anchor="end">10<tspan font-size="14.4" dy="-11.4">0</tspan></text>
<text transform="translate(85.8,105.0)" font-size="23.4" text-anchor="end">10<tspan font-size="14.4" dy="-11.4">-1</tspan></text>
<text transform="translate(85.8,145.0)" font-size="23.4" text-anchor="end">10<tspan font-size="14.4" dy="-11.4">-2</tspan></text>
<text transform="translate(85.8,185.0)" font-size="23.4" text-anchor="end">10<tspan font-size="14.4" dy="-11.4">-3</tspan></text>
<text transform="translate(85.8,225.0)" font-size="23.4" text-anchor="end">10<tspan font-size="14.4" dy="-11.4">-4</tspan></text>
<text transform="translate(85.8,326.4)" font-size="23.4" text-anchor="end">10<tspan font-size="14.4" dy="-11.4">0</tspan></text>
<text transform="translate(85.8,366.4)" font-size="23.4" text-anchor="end">10<tspan font-size="14.4" dy="-11.4">-1</tspan></text>
<text transform="translate(85.8,406.4)" font-size="23.4" text-anchor="end">10<tspan font-size="14.4" dy="-11.4">-2</tspan></text>
<text transform="translate(85.8,446.4)" font-size="23.4" text-anchor="end">10<tspan font-size="14.4" dy="-11.4">-3</tspan></text>
<text transform="translate(85.8,486.4)" font-size="23.4" text-anchor="end">10<tspan font-size="14.4" dy="-11.4">-4</tspan></text>
<text transform="translate(37.9,305.1) rotate(-90)" font-size="38.0">yield</text>
<text transform="translate(445.8,548.5) scale(1.020,1)" font-size="39.2">N</text>
<text transform="translate(473.7,562.3) scale(1.035,1)" font-size="22.3">ch</text>
<text transform="translate(102.8,185.5)" font-size="23.4">(a)sphere</text>
<text transform="translate(102.8,219.2) scale(1.025,1)" font-size="23.4"><tspan font-size="13.2" dy="-11.8">12</tspan><tspan dy="11.8" dx="0.0" font-size="23.4">&#8203;</tspan>C+<tspan font-size="13.2" dy="-11.8">12</tspan><tspan dy="11.8" dx="0.0" font-size="23.4">&#8203;</tspan>C@7TeV</text>
<text transform="translate(345.5,185.5)" font-size="23.4">(b)triangle</text>
<text transform="translate(345.5,219.2) scale(1.025,1)" font-size="23.4"><tspan font-size="13.2" dy="-11.8">12</tspan><tspan dy="11.8" dx="0.0" font-size="23.4">&#8203;</tspan>C+<tspan font-size="13.2" dy="-11.8">12</tspan><tspan dy="11.8" dx="0.0" font-size="23.4">&#8203;</tspan>C@7TeV</text>
<text transform="translate(588.5,185.5)" font-size="23.4">(c)chain</text>
<text transform="translate(588.5,219.2) scale(1.025,1)" font-size="23.4"><tspan font-size="13.2" dy="-11.8">12</tspan><tspan dy="11.8" dx="0.0" font-size="23.4">&#8203;</tspan>C+<tspan font-size="13.2" dy="-11.8">12</tspan><tspan dy="11.8" dx="0.0" font-size="23.4">&#8203;</tspan>C@7TeV</text>
<text transform="translate(102.8,447.0)" font-size="23.4">(d)sphere</text>
<text transform="translate(102.8,480.7) scale(1.025,1)" font-size="23.4"><tspan font-size="13.2" dy="-11.8">16</tspan><tspan dy="11.8" dx="0.0" font-size="23.4">&#8203;</tspan>O+<tspan font-size="13.2" dy="-11.8">16</tspan><tspan dy="11.8" dx="0.0" font-size="23.4">&#8203;</tspan>O@7TeV</text>
<text transform="translate(345.5,447.0)" font-size="23.4">(e)square</text>
<text transform="translate(345.5,480.7) scale(1.025,1)" font-size="23.4"><tspan font-size="13.2" dy="-11.8">16</tspan><tspan dy="11.8" dx="0.0" font-size="23.4">&#8203;</tspan>O+<tspan font-size="13.2" dy="-11.8">16</tspan><tspan dy="11.8" dx="0.0" font-size="23.4">&#8203;</tspan>O@7TeV</text>
<text transform="translate(588.5,447.0)" font-size="23.4">(f)chain</text>
<text transform="translate(588.5,480.7) scale(1.025,1)" font-size="23.4"><tspan font-size="13.2" dy="-11.8">16</tspan><tspan dy="11.8" dx="0.0" font-size="23.4">&#8203;</tspan>O+<tspan font-size="13.2" dy="-11.8">16</tspan><tspan dy="11.8" dx="0.0" font-size="23.4">&#8203;</tspan>O@7TeV</text>
<text transform="translate(315.6,54.6)" font-size="23.4">p</text>
<text transform="translate(315.5,75.4)" font-size="23.4">n</text>
<text transform="translate(314.7,103.3)" font-size="23.4">d</text>
<text transform="translate(256.8,109.8) scale(1.190,1)" font-size="25.3" font-family="'Liberation Serif', serif">&#945;</text>
<text transform="translate(257.7,140.7)" font-size="23.4">t</text>
<text transform="translate(267.9,150.5)" font-size="23.4"><tspan font-size="13.2" dy="-11.2">3</tspan><tspan dy="11.2" dx="0.9" font-size="23.4">&#8203;</tspan>He</text>
<text transform="translate(295.1,217.2)" font-size="23.4"><tspan font-size="13.2" dy="-11.8">6</tspan><tspan dy="11.8" dx="0.9" font-size="23.4">&#8203;</tspan>Li</text>
<text transform="translate(555.1,54.3)" font-size="23.4">p</text>
<text transform="translate(555.0,75.4)" font-size="23.4">n</text>
<text transform="translate(555.1,103.3)" font-size="23.4">d</text>
<text transform="translate(556.0,123.0) scale(1.190,1)" font-size="25.3" font-family="'Liberation Serif', serif">&#945;</text>
<text transform="translate(521.6,143.6)" font-size="23.4">t</text>
<text transform="translate(536.6,154.8)" font-size="23.4"><tspan font-size="13.2" dy="-11.2">3</tspan><tspan dy="11.2" dx="0.9" font-size="23.4">&#8203;</tspan>He</text>
<text transform="translate(545.0,193.8)" font-size="23.4"><tspan font-size="13.2" dy="-11.8">6</tspan><tspan dy="11.8" dx="0.9" font-size="23.4">&#8203;</tspan>Li</text>
<text transform="translate(781.4,49.3)" font-size="23.4">p</text>
<text transform="translate(781.3,68.3)" font-size="23.4">n</text>
<text transform="translate(780.9,86.8)" font-size="23.4">d</text>
<text transform="translate(781.4,100.8) scale(1.190,1)" font-size="25.3" font-family="'Liberation Serif', serif">&#945;</text>
<text transform="translate(771.7,122.8)" font-size="23.4"><tspan font-size="13.2" dy="-11.2">3</tspan><tspan dy="11.2" dx="0.9" font-size="23.4">&#8203;</tspan>He</text>
<text transform="translate(757.7,135.9)" font-size="23.4">t</text>
<text transform="translate(779.7,177.8)" font-size="23.4"><tspan font-size="13.2" dy="-11.8">6</tspan><tspan dy="11.8" dx="0.9" font-size="23.4">&#8203;</tspan>Li</text>
<text transform="translate(305.6,311.1)" font-size="23.4">p</text>
<text transform="translate(305.5,331.1)" font-size="23.4">n</text>
<text transform="translate(304.0,358.4)" font-size="23.4">d</text>
<text transform="translate(249.4,359.8) scale(1.190,1)" font-size="25.3" font-family="'Liberation Serif', serif">&#945;</text>
<text transform="translate(245.9,393.4)" font-size="23.4">t</text>
<text transform="translate(260.2,402.9)" font-size="23.4"><tspan font-size="13.2" dy="-11.2">3</tspan><tspan dy="11.2" dx="0.9" font-size="23.4">&#8203;</tspan>He</text>
<text transform="translate(300.3,457.7)" font-size="23.4"><tspan font-size="13.2" dy="-11.8">6</tspan><tspan dy="11.8" dx="0.9" font-size="23.4">&#8203;</tspan>Li</text>
<text transform="translate(549.7,311.1)" font-size="23.4">p</text>
<text transform="translate(549.6,331.1)" font-size="23.4">n</text>
<text transform="translate(549.1,353.1)" font-size="23.4">d</text>
<text transform="translate(550.1,377.4) scale(1.190,1)" font-size="25.3" font-family="'Liberation Serif', serif">&#945;</text>
<text transform="translate(514.9,395.5)" font-size="23.4">t</text>
<text transform="translate(528.5,405.0)" font-size="23.4"><tspan font-size="13.2" dy="-11.2">3</tspan><tspan dy="11.2" dx="0.9" font-size="23.4">&#8203;</tspan>He</text>
<text transform="translate(533.2,469.4)" font-size="23.4"><tspan font-size="13.2" dy="-11.8">6</tspan><tspan dy="11.8" dx="0.9" font-size="23.4">&#8203;</tspan>Li</text>
<text transform="translate(792.6,308.4)" font-size="23.4">p</text>
<text transform="translate(792.5,327.1)" font-size="23.4">n</text>
<text transform="translate(791.9,344.9)" font-size="23.4">d</text>
<text transform="translate(792.4,359.4) scale(1.190,1)" font-size="25.3" font-family="'Liberation Serif', serif">&#945;</text>
<text transform="translate(784.4,380.4)" font-size="23.4"><tspan font-size="13.2" dy="-11.2">3</tspan><tspan dy="11.2" dx="0.9" font-size="23.4">&#8203;</tspan>He</text>
<text transform="translate(764.4,388.7)" font-size="23.4">t</text>
<text transform="translate(793.4,430.5)" font-size="23.4"><tspan font-size="13.2" dy="-11.8">6</tspan><tspan dy="11.8" dx="0.9" font-size="23.4">&#8203;</tspan>Li</text>
</g>
</svg>
</body></html>
